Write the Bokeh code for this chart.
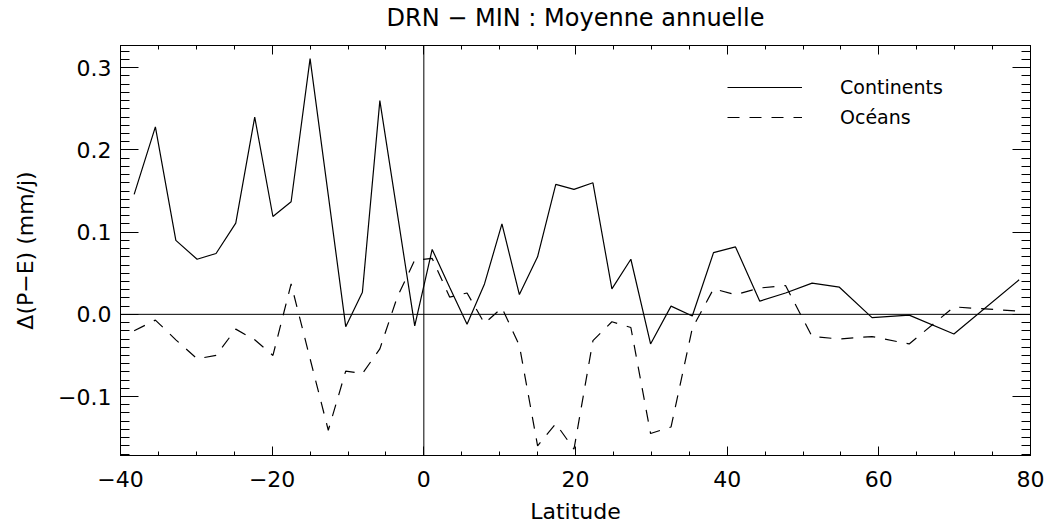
import numpy as np
from bokeh.plotting import figure
from bokeh.models import Span, LinearAxis, FixedTicker, Legend, LegendItem, CustomLabelingPolicy
from bokeh.embed import file_html
from bokeh.resources import INLINE

# ---- data ----
lat = [-38.2, -35.4, -32.7, -29.9, -27.4, -24.8, -22.3, -19.9, -17.5, -15.0,
       -12.6, -10.3, -8.1, -5.8, -3.5, -1.2, 1.1, 3.4, 5.7, 8.0,
       10.3, 12.6, 15.0, 17.4, 19.8, 22.3, 24.8, 27.3, 29.9, 32.6,
       35.4, 38.2, 41.1, 44.3, 47.7, 51.2, 54.8, 59.1, 64.0, 69.9, 78.5]
continents = [0.146, 0.228, 0.090, 0.067, 0.074, 0.111, 0.240, 0.119, 0.137, 0.311,
              0.145, -0.015, 0.027, 0.260, 0.123, -0.014, 0.079, 0.033, -0.012, 0.037,
              0.110, 0.024, 0.070, 0.158, 0.152, 0.160, 0.031, 0.067, -0.036, 0.010,
              -0.002, 0.075, 0.082, 0.016, 0.026, 0.038, 0.033, -0.004, -0.001, -0.024, 0.042]
oceans = [-0.020, -0.007, -0.031, -0.054, -0.050, -0.018, -0.031, -0.050, 0.037, -0.054,
          -0.141, -0.069, -0.072, -0.042, 0.021, 0.066, 0.068, 0.021, 0.026, -0.011,
          0.008, -0.038, -0.160, -0.133, -0.164, -0.032, -0.009, -0.016, -0.145, -0.137,
          -0.017, 0.031, 0.024, 0.032, 0.035, -0.027, -0.030, -0.027, -0.036, 0.009, 0.004]

x_ticks = [-40, -20, 0, 20, 40, 60, 80]
x_tick_labels = ["\u221240", "\u221220", "0", "20", "40", "60", "80"]
y_ticks = [-0.1, 0.0, 0.1, 0.2, 0.3]
y_tick_labels = ["\u22120.1", "0.0", "0.1", "0.2", "0.3"]

title_text = "DRN \u2212 MIN : Moyenne annuelle"
x_label = "Latitude"
y_label = "\u0394(P\u2212E) (mm/j)"
series_names = ["Continents", "Oc\u00e9ans"]

FONT = "DejaVu Sans"

p = figure(width=1045, height=527, x_range=(-40, 80), y_range=(-0.1717, 0.327),
           output_backend="svg", toolbar_location=None,
           min_border_left=120, min_border_right=15, min_border_top=45, min_border_bottom=72)
p.grid.visible = False
p.outline_line_color = "black"
p.outline_line_width = 1
p.background_fill_color = "white"
p.border_fill_color = "white"

x_minor = [float(v) for v in np.arange(-40, 80.1, 5)]
y_minor = [round(float(v), 2) for v in np.arange(-0.17, 0.3201, 0.01)]

hide_all = CustomLabelingPolicy(code="""
    for (const i of Array.from(indices)) indices.unset(i)
    return indices
""")

def style_axis(ax, ticks, labels, minor, major_len, minor_len, show_labels=True):
    ax.ticker = FixedTicker(ticks=ticks, minor_ticks=minor)
    ax.major_label_overrides = dict(zip(ticks, labels))
    ax.major_tick_in = major_len
    ax.major_tick_out = 0
    ax.minor_tick_in = minor_len
    ax.minor_tick_out = 0
    ax.axis_line_color = "black"
    ax.major_tick_line_color = "black"
    ax.minor_tick_line_color = "black"
    ax.major_label_text_font = FONT
    ax.major_label_text_color = "black"
    ax.major_label_text_font_size = "22px"
    ax.major_label_text_line_height = 1.0
    ax.axis_label_text_font = FONT
    ax.axis_label_text_font_style = "normal"
    ax.axis_label_text_color = "black"
    ax.axis_label_text_font_size = "22px"
    ax.axis_label_text_line_height = 1.0
    if not show_labels:
        # tick marks only on the mirrored axes: labels are neither drawn nor sized
        ax.major_label_policy = hide_all
        ax.major_label_text_font_size = "1px"
        ax.major_label_standoff = 0

style_axis(p.xaxis[0], x_ticks, x_tick_labels, x_minor, 9, 4)
style_axis(p.yaxis[0], y_ticks, y_tick_labels, y_minor, 18, 9)
p.xaxis[0].axis_label = x_label
p.yaxis[0].axis_label = y_label
p.xaxis[0].major_label_standoff = 15
p.xaxis[0].axis_label_standoff = 9
p.yaxis[0].major_label_standoff = 9
p.yaxis[0].axis_label_standoff = 17

# mirrored top axis carries the chart title as its label
top_ax = LinearAxis()
style_axis(top_ax, x_ticks, x_tick_labels, x_minor, 9, 4, show_labels=False)
top_ax.axis_label = title_text
top_ax.axis_label_text_font_size = "24px"
top_ax.axis_label_text_line_height = 0.8
top_ax.axis_label_standoff = 10
p.add_layout(top_ax, "above")
right_ax = LinearAxis()
style_axis(right_ax, y_ticks, y_tick_labels, y_minor, 18, 9, show_labels=False)
p.add_layout(right_ax, "right")

p.add_layout(Span(location=0, dimension="width", line_color="black", line_width=1))
p.add_layout(Span(location=0, dimension="height", line_color="black", line_width=1))

r1 = p.line(lat, continents, line_color="black", line_width=1.2)
r2 = p.line(lat, oceans, line_color="black", line_width=1.2, line_dash="12 10")

legend = Legend(items=[LegendItem(label=series_names[0], renderers=[r1]),
                       LegendItem(label=series_names[1], renderers=[r2])],
                location=(607, 323), border_line_color=None, background_fill_alpha=0,
                glyph_width=75, glyph_height=30, label_standoff=38, padding=0, margin=0,
                spacing=0, label_text_font=FONT, label_text_font_size="19px",
                label_text_color="black", label_height=30)
p.add_layout(legend)

open("out.html", "w").write(file_html(p, INLINE))
